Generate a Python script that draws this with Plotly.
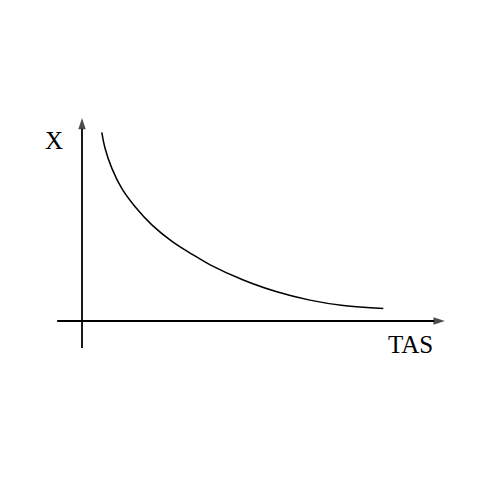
import plotly.graph_objects as go

# curve (TAS vs X, arbitrary units)
tas = [0.55, 0.64, 0.83, 1.10, 1.47, 1.94, 2.49, 3.05, 3.56, 4.48, 5.41, 6.33, 7.26, 8.37]
x_val = [5.24, 4.80, 4.24, 3.69, 3.18, 2.67, 2.22, 1.86, 1.56, 1.14, 0.81, 0.58, 0.43, 0.35]

# axis extents (arrow start -> arrow tip)
x_axis_span = [-0.69, 10.08]
y_axis_span = [-0.75, 5.64]

x_label = "TAS"
y_label = "X"


def _axis_arrow(xs, ys):
    return go.Scatter(
        x=xs,
        y=ys,
        mode="lines+markers",
        line=dict(color="black", width=1.8),
        marker=dict(
            symbol="arrow",
            angleref="previous",
            size=[0, 12],
            color="black",
            line=dict(width=0),
        ),
        hoverinfo="none",
    )


fig = go.Figure()
fig.add_trace(_axis_arrow(x_axis_span, [0, 0]))
fig.add_trace(_axis_arrow([0, 0], y_axis_span))
fig.add_trace(
    go.Scatter(
        x=tas,
        y=x_val,
        mode="lines",
        line=dict(color="black", width=1.5, shape="spline", smoothing=1.0),
        hoverinfo="none",
    )
)

label_font = dict(family="Liberation Serif", size=25, color="black")
fig.add_annotation(x=9.12, y=-0.64, text=x_label, showarrow=False, font=label_font)
fig.add_annotation(x=-0.78, y=5.0, text=y_label, showarrow=False, font=label_font)

# the page body adds ~8px, so the ranges are shifted to keep the origin at (82, 321)
fig.update_layout(
    width=497,
    height=497,
    showlegend=False,
    plot_bgcolor="white",
    paper_bgcolor="white",
    margin=dict(l=0, r=0, t=0, b=0),
    xaxis=dict(visible=False, range=[-2.056, 11.75]),
    yaxis=dict(visible=False, range=[-5.111, 8.694]),
)

fig.write_html("out.html")
